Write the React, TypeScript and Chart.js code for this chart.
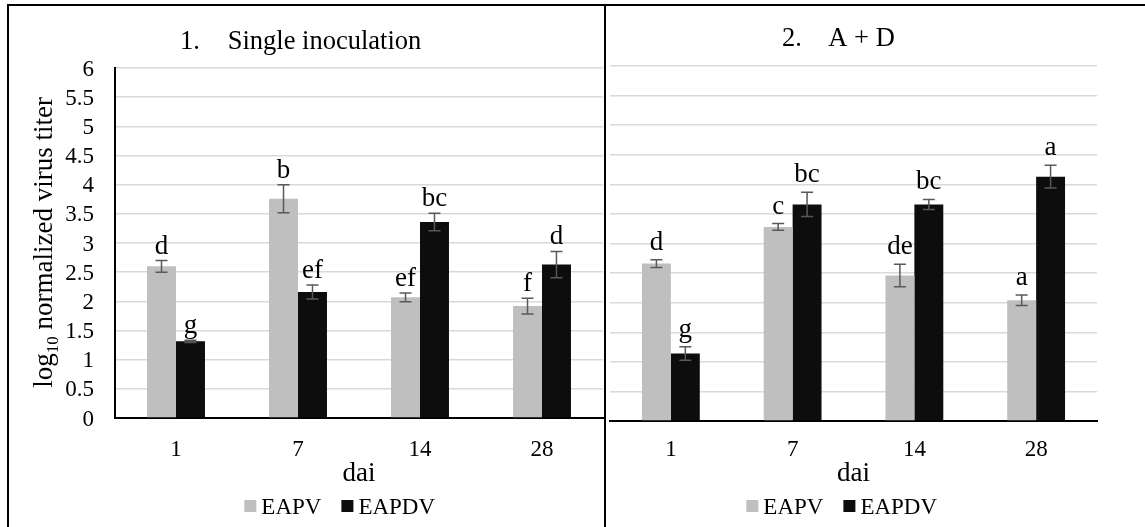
import React, { useEffect, useRef } from 'react';
import { Chart, registerables } from 'chart.js';

Chart.register(...registerables);

// ---------- data ----------
const DAYS = ['1', '7', '14', '28'];
const SERIES = ['EAPV', 'EAPDV'];

const SINGLE_EAPV = [2.6, 3.76, 2.07, 1.92];
const SINGLE_EAPV_ERR = [0.1, 0.24, 0.075, 0.135];
const SINGLE_EAPV_LETTERS = ['d', 'b', 'ef', 'f'];
const SINGLE_EAPDV = [1.315, 2.16, 3.36, 2.63];
const SINGLE_EAPDV_ERR = [0.02, 0.12, 0.15, 0.225];
const SINGLE_EAPDV_LETTERS = ['g', 'ef', 'bc', 'd'];

const AD_EAPV = [2.66, 3.28, 2.46, 2.04];
const AD_EAPV_ERR = [0.065, 0.057, 0.19, 0.088];
const AD_EAPV_LETTERS = ['d', 'c', 'de', 'a'];
const AD_EAPDV = [1.14, 3.66, 3.66, 4.13];
const AD_EAPDV_ERR = [0.115, 0.205, 0.085, 0.193];
const AD_EAPDV_LETTERS = ['g', 'bc', 'bc', 'a'];

const Y_MIN = 0;
const Y_MAX = 6;
const Y_STEP = 0.5;

const PANEL_NUMBERS = ['1.', '2.'];
const PANEL_TITLES = ['Single inoculation', 'A + D'];
const X_TITLE = 'dai';
const Y_TITLE_PARTS = ['log', '10', ' normalized virus titer'];

// ---------- styles ----------
const FONT = "'Liberation Serif', 'Times New Roman', Times, serif";
const COLORS = ['#BFBFBF', '#0D0D0D'];
const GRID = '#D9D9D9';
const ERR_COLOR = '#595959';

type PanelCfg = {
  width: number;
  height: number;
  padTop: number;
  padRight: number;
  yWidth: number;
  xHeight: number;
  xTickPad: number;
  showYAxis: boolean;
  numX: number;
  textX: number;
  titleY: number;
  legendCX: number;
  legendY: number;
  labelGap: number;
  yTitleX?: number;
  yTitleCY?: number;
};

const decorPlugin = {
  id: 'panelDecor',
  afterDatasetsDraw(chart: any, _a: any, opts: any) {
    const ctx = chart.ctx;
    const yScale = chart.scales.y;
    ctx.save();
    chart.data.datasets.forEach((ds: any, i: number) => {
      const meta = chart.getDatasetMeta(i);
      meta.data.forEach((el: any, j: number) => {
        const v = ds.data[j];
        const e = ds.errors[j];
        const x = el.x;
        const yT = yScale.getPixelForValue(v + e);
        const yB = yScale.getPixelForValue(v - e);
        ctx.strokeStyle = ERR_COLOR;
        ctx.lineWidth = 1.5;
        ctx.beginPath();
        ctx.moveTo(x, yT);
        ctx.lineTo(x, yB);
        ctx.moveTo(x - 6, yT);
        ctx.lineTo(x + 6, yT);
        ctx.moveTo(x - 6, yB);
        ctx.lineTo(x + 6, yB);
        ctx.stroke();
        ctx.fillStyle = '#000';
        ctx.font = `27px ${FONT}`;
        ctx.textAlign = 'center';
        ctx.textBaseline = 'alphabetic';
        ctx.fillText(ds.letters[j], x, yT - opts.labelGap);
      });
    });
    ctx.restore();
  },
  afterDraw(chart: any, _a: any, opts: any) {
    const ctx = chart.ctx;
    ctx.save();
    ctx.fillStyle = '#000';
    ctx.textBaseline = 'alphabetic';
    ctx.textAlign = 'left';
    // panel title
    ctx.font = `26.5px ${FONT}`;
    ctx.fillText(opts.num, opts.numX, opts.titleY);
    ctx.fillText(opts.title, opts.textX, opts.titleY);
    // legend
    ctx.font = `23px ${FONT}`;
    const labels = chart.data.datasets.map((d: any) => d.label);
    const widths = labels.map((l: string) => ctx.measureText(l).width);
    const box = 12;
    const gap = 5;
    const itemGap = 20;
    const total = widths.reduce((s: number, w: number) => s + box + gap + w, 0) + itemGap * (labels.length - 1);
    let x = opts.legendCX - total / 2;
    labels.forEach((l: string, i: number) => {
      ctx.fillStyle = chart.data.datasets[i].backgroundColor;
      ctx.fillRect(x, opts.legendY - 14, box, box);
      x += box + gap;
      ctx.fillStyle = '#000';
      ctx.fillText(l, x, opts.legendY);
      x += widths[i] + itemGap;
    });
    // y title
    if (opts.yTitleX !== undefined) {
      ctx.translate(opts.yTitleX, opts.yTitleCY);
      ctx.rotate(-Math.PI / 2);
      ctx.font = `27px ${FONT}`;
      const w1 = ctx.measureText(Y_TITLE_PARTS[0]).width;
      const w3 = ctx.measureText(Y_TITLE_PARTS[2]).width;
      ctx.font = `17px ${FONT}`;
      const w2 = ctx.measureText(Y_TITLE_PARTS[1]).width;
      let tx = -(w1 + w2 + w3) / 2;
      ctx.font = `27px ${FONT}`;
      ctx.fillText(Y_TITLE_PARTS[0], tx, 0);
      tx += w1;
      ctx.font = `17px ${FONT}`;
      ctx.fillText(Y_TITLE_PARTS[1], tx, 6);
      tx += w2;
      ctx.font = `27px ${FONT}`;
      ctx.fillText(Y_TITLE_PARTS[2], tx, 0);
    }
    ctx.restore();
  },
};

function makeChart(
  canvas: HTMLCanvasElement,
  cfg: PanelCfg,
  idx: number,
  vals: number[][],
  errs: number[][],
  letters: string[][]
) {
  return new Chart(canvas, {
    type: 'bar',
    data: {
      labels: DAYS,
      datasets: SERIES.map((s, i) => ({
        label: s,
        data: vals[i],
        errors: errs[i],
        letters: letters[i],
        backgroundColor: COLORS[i],
        borderWidth: 0,
        categoryPercentage: 0.475,
        barPercentage: 1,
      })) as any,
    },
    plugins: [decorPlugin as any],
    options: {
      responsive: false,
      animation: false,
      devicePixelRatio: 1,
      layout: { padding: { top: cfg.padTop, right: cfg.padRight, left: 0, bottom: 0 } },
      plugins: {
        legend: { display: false },
        title: { display: false },
        tooltip: { enabled: false },
        panelDecor: {
          num: PANEL_NUMBERS[idx],
          title: PANEL_TITLES[idx],
          numX: cfg.numX,
          textX: cfg.textX,
          titleY: cfg.titleY,
          legendCX: cfg.legendCX,
          legendY: cfg.legendY,
          labelGap: cfg.labelGap,
          yTitleX: cfg.yTitleX,
          yTitleCY: cfg.yTitleCY,
        },
      } as any,
      scales: {
        x: {
          z: 1,
          offset: true,
          grid: { display: false, drawTicks: false },
          border: { display: true, color: '#000', width: 2 },
          ticks: { font: { family: FONT, size: 23 }, color: '#000', padding: cfg.xTickPad, maxRotation: 0 },
          title: {
            display: true,
            text: X_TITLE,
            color: '#000',
            font: { family: FONT, size: 27 },
            padding: { top: 0, bottom: 37 },
          },
          afterFit: (s: any) => {
            s.height = cfg.xHeight;
          },
        },
        y: {
          min: Y_MIN,
          max: Y_MAX,
          grid: {
            drawTicks: false,
            lineWidth: 1.5,
            color: (c: any) => (c.tick && c.tick.value === 0 ? 'rgba(0,0,0,0)' : GRID),
          },
          border: { display: cfg.showYAxis, color: '#000', width: 2 },
          ticks: {
            display: cfg.showYAxis,
            stepSize: Y_STEP,
            autoSkip: false,
            font: { family: FONT, size: 23 },
            color: '#000',
            padding: 21,
            labelOffset: 1.5,
            callback: (v: any) => String(Math.round(Number(v) * 10) / 10),
          },
          afterFit: (s: any) => {
            s.width = cfg.yWidth;
          },
        },
      },
    } as any,
  });
}

const LEFT: PanelCfg = {
  width: 595,
  height: 521,
  padTop: 62,
  padRight: 1,
  yWidth: 106,
  xHeight: 109,
  xTickPad: 18,
  showYAxis: true,
  numX: 171,
  textX: 218.7,
  titleY: 43.3,
  legendCX: 330.7,
  legendY: 508,
  labelGap: 7,
  yTitleX: 43,
  yTitleCY: 236.4,
};

const RIGHT: PanelCfg = {
  width: 539,
  height: 521,
  padTop: 60,
  padRight: 48,
  yWidth: 4,
  xHeight: 106,
  xTickPad: 15,
  showYAxis: false,
  numX: 176,
  textX: 222.3,
  titleY: 40,
  legendCX: 235.7,
  legendY: 508,
  labelGap: 10,
};

export default function App() {
  const leftRef = useRef<HTMLCanvasElement>(null);
  const rightRef = useRef<HTMLCanvasElement>(null);

  useEffect(() => {
    const c1 = makeChart(
      leftRef.current!,
      LEFT,
      0,
      [SINGLE_EAPV, SINGLE_EAPDV],
      [SINGLE_EAPV_ERR, SINGLE_EAPDV_ERR],
      [SINGLE_EAPV_LETTERS, SINGLE_EAPDV_LETTERS]
    );
    const c2 = makeChart(
      rightRef.current!,
      RIGHT,
      1,
      [AD_EAPV, AD_EAPDV],
      [AD_EAPV_ERR, AD_EAPDV_ERR],
      [AD_EAPV_LETTERS, AD_EAPDV_LETTERS]
    );
    return () => {
      c1.destroy();
      c2.destroy();
    };
  }, []);

  return (
    <div
      style={{
        position: 'fixed',
        left: 0,
        top: 0,
        width: 1145,
        height: 527,
        overflow: 'hidden',
        background: '#fff',
      }}
    >
      <div
        style={{
          position: 'absolute',
          left: 7,
          top: 4,
          width: 1200,
          height: 600,
          border: '2px solid #000',
          boxSizing: 'border-box',
        }}
      />
      <div style={{ position: 'absolute', left: 604, top: 4, width: 2, height: 600, background: '#000' }} />
      <canvas
        ref={leftRef}
        width={LEFT.width}
        height={LEFT.height}
        style={{ position: 'absolute', left: 9, top: 6, width: LEFT.width, height: LEFT.height }}
      />
      <canvas
        ref={rightRef}
        width={RIGHT.width}
        height={RIGHT.height}
        style={{ position: 'absolute', left: 606, top: 6, width: RIGHT.width, height: RIGHT.height }}
      />
    </div>
  );
}
